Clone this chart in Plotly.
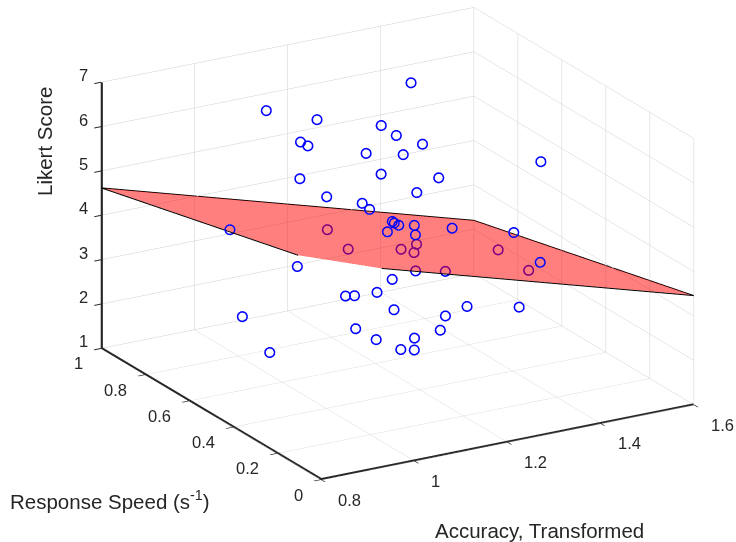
import plotly.graph_objects as go

# Observations: transformed accuracy, response speed (1/s), Likert rating
accuracy = [1.370, 1.083, 1.121, 1.188, 1.244, 1.180, 1.007, 1.253, 1.250, 1.188,
            1.235, 0.919, 1.099, 1.288, 1.071, 1.218, 1.045, 0.802, 1.141, 1.098,
            1.202, 1.036, 1.259, 1.167, 1.293, 1.496, 1.364, 1.507, 0.890, 1.188,
            1.135, 0.989, 1.297, 1.121, 1.255, 1.443, 1.366, 0.890, 1.086, 1.012,
            1.283, 1.126, 1.112, 1.259, 0.878, 1.214, 1.188, 1.325, 1.429, 1.282,
            1.191, 1.302, 1.557, 1.528]
speed = [0.80, 0.85, 0.70, 0.55, 0.60, 0.90, 0.50, 0.50, 0.75, 0.45,
         0.65, 0.35, 0.10, 0.60, 0.55, 0.70, 0.30, 0.42, 0.40, 0.30,
         0.50, 0.20, 0.55, 0.35, 0.45, 0.60, 0.20, 0.50, 0.30, 0.50,
         0.60, 0.25, 0.80, 0.35, 0.40, 0.70, 0.30, 0.55, 0.45, 0.20,
         0.60, 0.15, 0.30, 0.55, 0.40, 0.85, 0.70, 0.75, 0.90, 0.60,
         0.40, 0.50, 0.80, 0.60]
likert = [6.38, 6.21, 6.37, 6.54, 6.05, 5.15, 6.61, 6.13, 5.19, 6.18,
          5.05, 6.50, 6.88, 4.67, 5.18, 4.28, 5.69, 5.39, 4.92, 5.27,
          4.41, 5.50, 4.14, 4.71, 4.30, 3.33, 4.12, 5.20, 4.73, 3.22,
          2.66, 4.01, 1.81, 3.12, 2.55, 1.48, 2.81, 2.86, 2.47, 3.12,
          1.40, 3.24, 2.39, 1.33, 2.52, 3.25, 3.31, 2.87, 2.32, 3.33,
          3.70, 3.16, 2.22, 2.41]

# Fitted plane: likert = b0 + b_acc * accuracy + b_speed * speed
b0 = 8.30
b_acc = -3.025
b_speed = -1.26

x_range = [0.8, 1.6]
y_range = [0.0, 1.0]
z_range = [1, 7]
x_ticks = [0.8, 1.0, 1.2, 1.4, 1.6]
x_labels = ["0.8", "1", "1.2", "1.4", "1.6"]
y_ticks = [0, 0.2, 0.4, 0.6, 0.8, 1.0]
y_labels = ["0", "0.2", "0.4", "0.6", "0.8", "1"]
z_ticks = [1, 2, 3, 4, 5, 6, 7]
z_labels = ["1", "2", "3", "4", "5", "6", "7"]


def plane_z(a, s):
    return b0 + b_acc * a + b_speed * s


FONT = "Liberation Sans, Arial, Helvetica, sans-serif"
INK = "#262626"
W, H = 736, 542
EPS = 1e-4  # keeps labels at the range ends inside plotly's visibility test


def inside(v, lo, hi, eps=EPS):
    return min(max(v, lo + eps), hi - eps)


fig = go.Figure()

fig.add_trace(go.Scatter3d(
    x=accuracy, y=speed, z=likert,
    mode="markers",
    marker=dict(symbol="circle-open", size=6, color="#0000ff",
                line=dict(color="#0000ff", width=1.5)),
    hoverinfo="skip", showlegend=False,
))

px = [x_range[0], x_range[1]]
py = [y_range[0], y_range[1]]
pz = [[plane_z(a, s) for a in px] for s in py]
fig.add_trace(go.Surface(
    x=px, y=py, z=pz,
    colorscale=[[0, "#ff0000"], [1, "#ff0000"]],
    showscale=False, opacity=0.5,
    lighting=dict(ambient=1, diffuse=0, specular=0, fresnel=0, roughness=1),
    hoverinfo="skip",
))

# plane outline
ox = [px[0], px[1], px[1], px[0], px[0]]
oy = [py[0], py[0], py[1], py[1], py[0]]
oz = [plane_z(a, s) for a, s in zip(ox, oy)]
fig.add_trace(go.Scatter3d(
    x=ox, y=oy, z=oz, mode="lines",
    line=dict(color="black", width=2),
    hoverinfo="skip", showlegend=False,
))

# the three visible axis lines (z on the left, y and x along the floor),
# pulled a hair inside the box so the clip planes keep them whole
e = 2e-3
x0, x1 = inside(x_range[0], *x_range, e * 0.8), x_range[1]
y0, y1 = inside(y_range[0], *y_range, e), inside(y_range[1], *y_range, e)
z0, z1 = inside(z_range[0], *z_range, e * 6), z_range[1]
fig.add_trace(go.Scatter3d(
    x=[x0, x0, x0, x1], y=[y1, y1, y0, y0], z=[z1, z0, z0, z0],
    mode="lines",
    line=dict(color=INK, width=2.5),
    hoverinfo="skip", showlegend=False,
))

axis_common = dict(
    showbackground=False,
    showgrid=True, gridcolor="#cfcfcf", gridwidth=1,
    zeroline=False,
    showline=True, linecolor=INK, linewidth=2,
    ticks="outside", tickcolor=INK, ticklen=8, tickwidth=2,
    showticklabels=False,
    showspikes=False,
    title=dict(text=""),
)

# tick labels anchored at the tick positions in data space
tick_font = dict(family=FONT, size=16.5, color=INK)
scene_ann = []
for v, t in zip(x_ticks, x_labels):
    scene_ann.append(dict(x=inside(v, *x_range), y=y_range[0], z=z_range[0], text=t,
                          showarrow=False, xanchor="left", yanchor="middle",
                          xshift=15, yshift=-20, font=tick_font))
for v, t in zip(y_ticks, y_labels):
    scene_ann.append(dict(x=x_range[0], y=inside(v, *y_range), z=z_range[0], text=t,
                          showarrow=False, xanchor="right", yanchor="middle",
                          xshift=-16, yshift=-15, font=tick_font))
for v, t in zip(z_ticks, z_labels):
    scene_ann.append(dict(x=x_range[0], y=y_range[1], z=inside(v, *z_range), text=t,
                          showarrow=False, xanchor="right", yanchor="middle",
                          xshift=-11, yshift=7, font=tick_font))

fig.update_layout(
    width=W, height=H,
    margin=dict(l=0, r=0, t=0, b=0),
    paper_bgcolor="white",
    font=dict(family=FONT, color=INK),
    scene=dict(
        domain=dict(x=[0.08, 1.0], y=[0.1014, 1.0]),
        xaxis=dict(range=x_range, tickvals=x_ticks, **axis_common),
        yaxis=dict(range=y_range, tickvals=y_ticks, **axis_common),
        zaxis=dict(range=z_range, tickvals=z_ticks, **axis_common),
        aspectmode="manual",
        aspectratio=dict(x=1.77, y=1.80, z=1.165),
        camera=dict(
            projection=dict(type="orthographic"),
            eye=dict(x=-0.528, y=-0.910, z=0.388),
            up=dict(x=0, y=0, z=1),
            center=dict(x=0, y=0, z=0),
        ),
        annotations=scene_ann,
    ),
)

# axis titles, placed in pixel coordinates of the page
titles = [
    ("Likert Score", 44, 142, -90),
    ("Response Speed (s<sup>-1</sup>)", 110, 500, 0),
    ("Accuracy, Transformed", 539, 530, 0),
]
for text, tx, ty, ang in titles:
    fig.add_annotation(
        text=text, x=tx / W, y=1 - ty / H, xref="paper", yref="paper",
        xanchor="center", yanchor="middle",
        showarrow=False, textangle=ang,
        font=dict(family=FONT, size=20.5, color=INK),
    )

fig.write_html("out.html")
